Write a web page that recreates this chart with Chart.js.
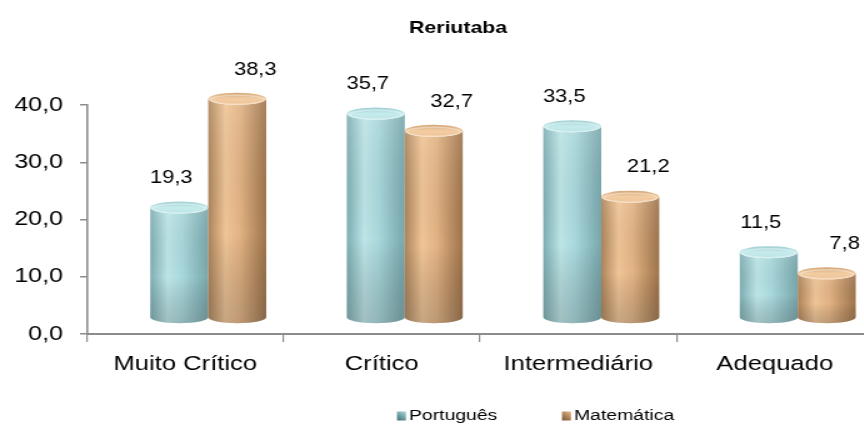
<!DOCTYPE html>
<html>
<head>
<meta charset="utf-8">
<script src="https://cdn.jsdelivr.net/npm/chart.js@4/dist/chart.umd.min.js"></script>
<style>
  html, body { margin: 0; padding: 0; background: #fff; width: 864px; height: 428px; overflow: hidden; }
  /* the chart is drawn on a narrower canvas and widened horizontally */
  #wrap { position: absolute; left: 0; top: 0; width: 733px; height: 428px; transform: scaleX(1.25); transform-origin: 0 0; }
</style>
</head>
<body>
<div id="wrap"><canvas id="chart" width="733" height="428"></canvas></div>
<script>
// Distribuição por nível de proficiência (%)
const chartTitle = 'Reriutaba';
const categories = ['Muito Crítico', 'Crítico', 'Intermediário', 'Adequado'];
const seriesNames = ['Português', 'Matemática'];
const portugues = [19.3, 35.7, 33.5, 11.5];
const matematica = [38.3, 32.7, 21.2, 7.8];
const yTicks = [0, 10, 20, 30, 40];

const FONT = '"Liberation Sans", Arial, sans-serif';
const fmt = v => Number(v).toFixed(1).replace('.', ',');

// cylinder look: depth shift of the 3D bars and cap ellipse height
const DEPTH_X = 18.4, DEPTH_Y = 16, CAP_RY = 6;
// label shift (per series) relative to the front face centre
const LABEL_DX = [-6.4, 14.4], LABEL_DY = -45;

const palettes = [
  { edge: '#7eaeb3', light: '#bde5e7', mid: '#a9d8dc', dark: '#78a7ac', cap: '#c6ebec', capEdge: '#9fcfd3', key: ['#3f6e74', '#a9d9dc'] },
  { edge: '#ad845a', light: '#f0c597', mid: '#e2b384', dark: '#9e744b', cap: '#f2cca3', capEdge: '#d4a676', key: ['#7a5332', '#e8b988'] }
];

function drawCylinder(ctx, left, right, top, bottom, pal) {
  const cx = (left + right) / 2, rx = (right - left) / 2, ry = CAP_RY;
  // body
  const g = ctx.createLinearGradient(left, 0, right, 0);
  g.addColorStop(0, pal.edge);
  g.addColorStop(0.3, pal.light);
  g.addColorStop(0.55, pal.mid);
  g.addColorStop(1, pal.dark);
  ctx.beginPath();
  ctx.moveTo(left, top);
  ctx.lineTo(left, bottom);
  ctx.ellipse(cx, bottom, rx, ry, 0, Math.PI, 0, true);
  ctx.lineTo(right, top);
  ctx.ellipse(cx, top, rx, ry, 0, 0, Math.PI, false);
  ctx.closePath();
  ctx.fillStyle = g;
  ctx.fill();
  // darker towards the floor
  ctx.save();
  ctx.clip();
  const v = ctx.createLinearGradient(0, top, 0, bottom + ry);
  v.addColorStop(0, 'rgba(255,255,255,0.10)');
  v.addColorStop(0.6, 'rgba(0,0,0,0)');
  v.addColorStop(1, 'rgba(60,60,60,0.22)');
  ctx.fillStyle = v;
  ctx.fillRect(left - 1, top - ry - 1, right - left + 2, bottom - top + 2 * ry + 2);
  ctx.restore();
  // rounded cap
  const cg = ctx.createLinearGradient(0, top - ry, 0, top + ry);
  cg.addColorStop(0, pal.capEdge);
  cg.addColorStop(0.5, pal.cap);
  cg.addColorStop(1, pal.light);
  ctx.beginPath();
  ctx.ellipse(cx, top, rx, ry, 0, 0, Math.PI * 2);
  ctx.fillStyle = cg;
  ctx.fill();
  ctx.beginPath();
  ctx.ellipse(cx, top + 1, rx - 2, ry - 1.5, 0, 0, Math.PI * 2);
  ctx.strokeStyle = 'rgba(255,255,255,0.35)';
  ctx.lineWidth = 1.5;
  ctx.stroke();
}

const cylinders = {
  id: 'cylinders',
  beforeDatasetsDraw(chart) {
    const ctx = chart.ctx;
    ctx.save();
    chart.data.datasets.forEach((ds, di) => {
      chart.getDatasetMeta(di).data.forEach(bar => {
        const { x, y, base, width } = bar.getProps(['x', 'y', 'base', 'width'], true);
        drawCylinder(ctx, x - width / 2 + DEPTH_X, x + width / 2 + DEPTH_X,
          y - DEPTH_Y, base - DEPTH_Y, palettes[di]);
      });
    });
    ctx.restore();
    return false;
  }
};

const decorations = {
  id: 'decorations',
  afterDraw(chart) {
    const ctx = chart.ctx;
    ctx.save();
    // value labels
    ctx.font = '17.5px ' + FONT;
    ctx.fillStyle = '#000';
    ctx.textAlign = 'center';
    ctx.textBaseline = 'middle';
    chart.data.datasets.forEach((ds, di) => {
      chart.getDatasetMeta(di).data.forEach((bar, i) => {
        const { x, y } = bar.getProps(['x', 'y'], true);
        ctx.fillText(fmt(ds.data[i]), x + DEPTH_X + LABEL_DX[di], y + LABEL_DY);
      });
    });
    // title
    ctx.font = 'bold 17px ' + FONT;
    ctx.fillText(chartTitle, chart.width / 2, 28);
    // legend
    ctx.font = '15.5px ' + FONT;
    ctx.textAlign = 'left';
    const legendLeft = 317.6, legendStep = 132, legendY = 416, boxW = 7.2, boxH = 9;
    chart.data.datasets.forEach((ds, di) => {
      const lx = legendLeft + di * legendStep;
      const kg = ctx.createLinearGradient(lx, legendY + boxH / 2, lx + boxW, legendY - boxH / 2);
      kg.addColorStop(0, palettes[di].key[0]);
      kg.addColorStop(1, palettes[di].key[1]);
      ctx.fillStyle = kg;
      ctx.fillRect(lx, legendY - boxH / 2, boxW, boxH);
      ctx.fillStyle = '#000';
      ctx.fillText(ds.label, lx + boxW + 2.4, legendY);
    });
    ctx.restore();
  }
};

new Chart(document.getElementById('chart'), {
  type: 'bar',
  data: {
    labels: categories,
    datasets: [
      { label: seriesNames[0], data: portugues, backgroundColor: 'rgba(0,0,0,0)' },
      { label: seriesNames[1], data: matematica, backgroundColor: 'rgba(0,0,0,0)' }
    ]
  },
  options: {
    responsive: false,
    animation: false,
    devicePixelRatio: 1,
    layout: { padding: { top: 105, right: 34.6, bottom: 54, left: 0 } },
    datasets: { bar: { categoryPercentage: 0.59, barPercentage: 1 } },
    plugins: { legend: { display: false }, title: { display: false }, tooltip: { enabled: false } },
    scales: {
      x: {
        afterFit: s => { s.height = 40; },
        grid: { offset: true, drawOnChartArea: false, tickLength: 8, color: '#8c8c8c', lineWidth: 1.2 },
        border: { color: '#8c8c8c', width: 2 },
        ticks: { color: '#000', font: { family: FONT, size: 20.5 }, padding: 10, maxRotation: 0, autoSkip: false }
      },
      y: {
        min: 0, max: 40,
        afterFit: s => { s.width = 69.6; },
        afterBuildTicks: s => { s.ticks = yTicks.map(v => ({ value: v })); },
        grid: { drawOnChartArea: false, tickLength: 5.6, color: '#8c8c8c', lineWidth: 1.5 },
        border: { color: '#8c8c8c', width: 1.6 },
        ticks: { color: '#000', font: { family: FONT, size: 20 }, padding: 13.6, callback: v => fmt(v) }
      }
    }
  },
  plugins: [cylinders, decorations]
});
</script>
</body>
</html>
